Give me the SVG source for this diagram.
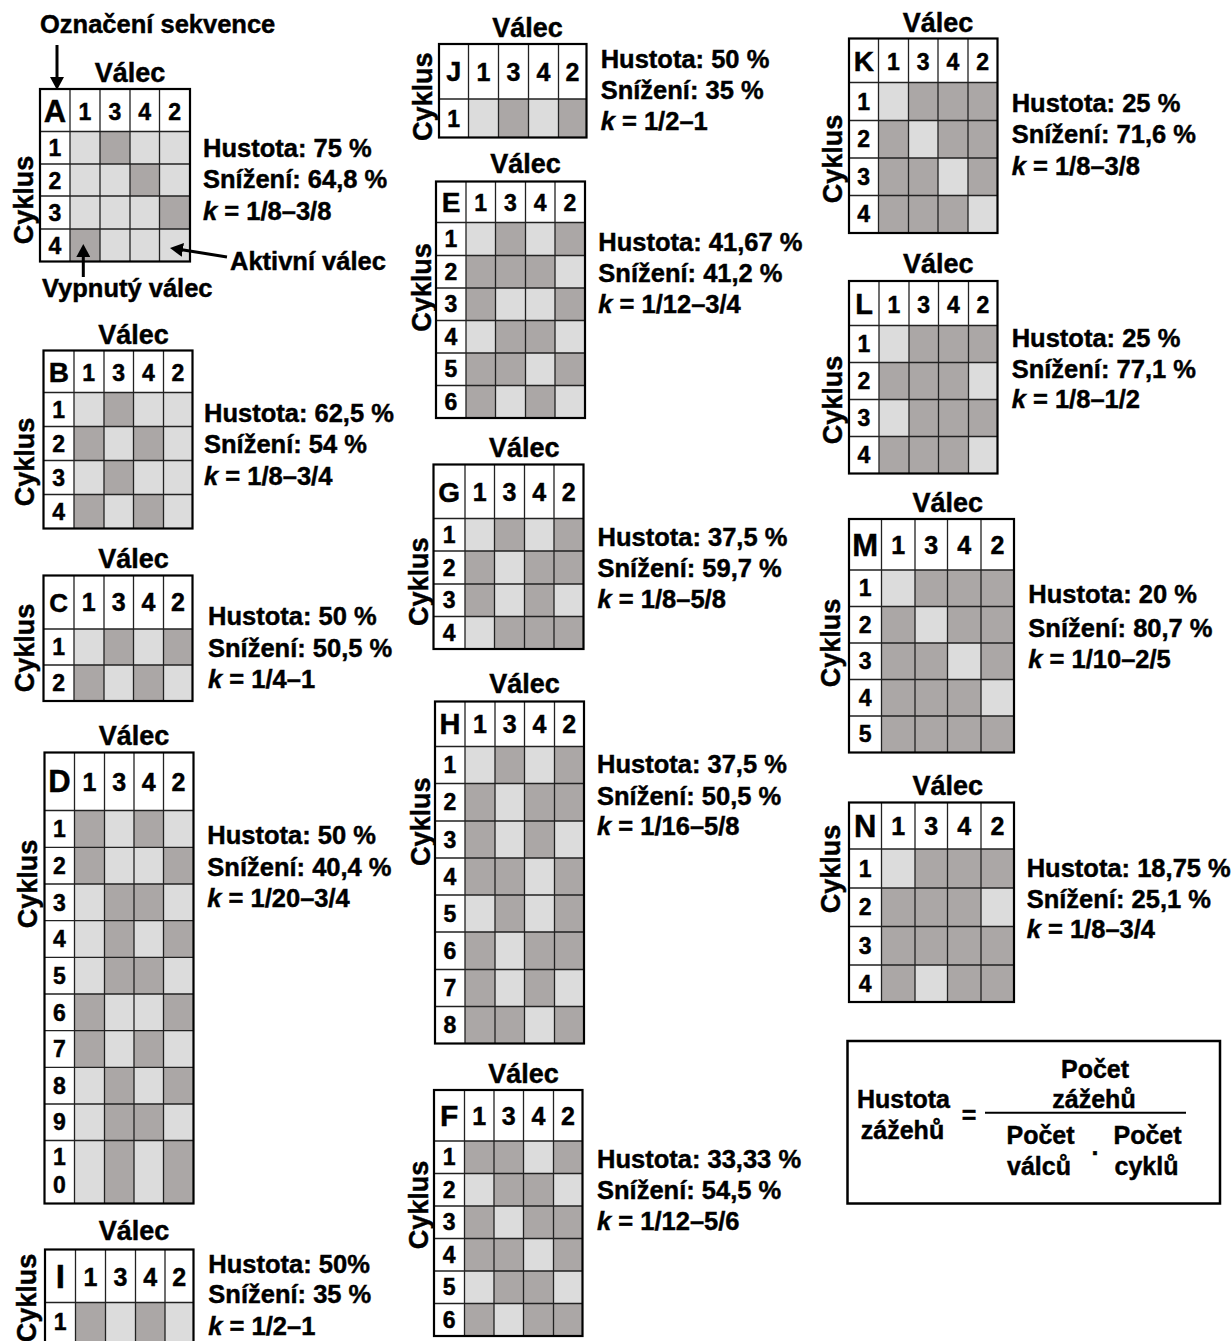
<svg xmlns="http://www.w3.org/2000/svg" width="1232" height="1341" viewBox="0 0 1232 1341">
<defs>
<style>
.bg{fill:#fff}
.l{fill:#dcdcdc}
.d{fill:#aba7a6}
.in{stroke:#222;stroke-width:1.3;fill:none}
.out{stroke:#000;stroke-width:2.2;fill:none}
text{font-family:"Liberation Sans",Arial,Helvetica,sans-serif;font-weight:bold;fill:#000;stroke:#000;stroke-width:0.45}
.vl{font-size:27px;text-anchor:middle}
.n{font-size:23px;text-anchor:middle}
.h{font-size:23px;text-anchor:middle}
.H{font-size:25px;text-anchor:middle}
.hd{text-anchor:middle}
.st{font-size:25.5px}
.lb{font-size:25.5px}
.fm{font-size:25px;text-anchor:middle}
.ar{stroke:#000;stroke-width:3;fill:none}
</style>
<marker id="ah" markerWidth="14" markerHeight="14" refX="4" refY="7" orient="auto" markerUnits="userSpaceOnUse">
<path d="M0,0 L13,7 L0,14 z" fill="#000"/>
</marker>
</defs>
<rect width="1232" height="1341" fill="#fff"/>

<g id="legend">
<text class="lb" x="40" y="33">Označení sekvence</text>
<text class="lb" x="230" y="270">Aktivní válec</text>
<text class="lb" x="42" y="297">Vypnutý válec</text>
</g>

<g id="grid-A">
<text class="vl" x="130" y="82">Válec</text>
<text class="vl" transform="translate(33,200) rotate(-90)">Cyklus</text>
<rect class="bg" x="40" y="89" width="150" height="172.5"/>
<rect class="l" x="70" y="131.5" width="120" height="130"/>
<rect class="d" x="100" y="131.5" width="30" height="32.5"/>
<rect class="d" x="130" y="164" width="29.5" height="32"/>
<rect class="d" x="159.5" y="196" width="30.5" height="33"/>
<rect class="d" x="70" y="229" width="30" height="32.5"/>
<path class="in" d="M70 89V261.5M100 89V261.5M130 89V261.5M159.5 89V261.5M40 131.5H190M40 164H190M40 196H190M40 229H190"/>
<rect class="out" x="40" y="89" width="150" height="172.5"/>
<text class="hd" x="55" y="122" font-size="31">A</text>
<text class="h" x="85" y="120">1</text><text class="h" x="115" y="120">3</text><text class="h" x="144.75" y="120">4</text><text class="h" x="174.75" y="120">2</text>
<text class="n" x="55" y="156">1</text><text class="n" x="55" y="188.5">2</text><text class="n" x="55" y="221">3</text><text class="n" x="55" y="253.5">4</text>
<text class="st" x="203" y="156.7">Hustota: 75 %</text>
<text class="st" x="203" y="188.3">Snížení: 64,8 %</text>
<text class="st" x="203" y="220"><tspan font-style="italic">k</tspan> = 1/8–3/8</text>
</g>

<g id="grid-B">
<text class="vl" x="133.5" y="344">Válec</text>
<text class="vl" transform="translate(34,462) rotate(-90)">Cyklus</text>
<rect class="bg" x="43.5" y="350.5" width="149" height="178"/>
<rect class="l" x="74" y="392.5" width="118.5" height="136"/>
<rect class="d" x="104" y="392.5" width="29.5" height="34"/>
<rect class="d" x="74" y="426.5" width="30" height="34"/>
<rect class="d" x="133.5" y="426.5" width="30" height="34"/>
<rect class="d" x="104" y="460.5" width="29.5" height="34"/>
<rect class="d" x="74" y="494.5" width="30" height="34"/>
<rect class="d" x="133.5" y="494.5" width="30" height="34"/>
<path class="in" d="M74 350.5V528.5M104 350.5V528.5M133.5 350.5V528.5M163.5 350.5V528.5M43.5 392.5H192.5M43.5 426.5H192.5M43.5 460.5H192.5M43.5 494.5H192.5"/>
<rect class="out" x="43.5" y="350.5" width="149" height="178"/>
<text class="hd" x="58.75" y="381.5" font-size="28">B</text>
<text class="h" x="88.75" y="380.5">1</text><text class="h" x="118.75" y="380.5">3</text><text class="h" x="148.5" y="380.5">4</text><text class="h" x="178" y="380.5">2</text>
<text class="n" x="58.75" y="417.5">1</text><text class="n" x="58.75" y="451.5">2</text><text class="n" x="58.75" y="485.5">3</text><text class="n" x="58.75" y="519.5">4</text>
<text class="st" x="204" y="421.7">Hustota: 62,5 %</text>
<text class="st" x="204" y="453.3">Snížení: 54 %</text>
<text class="st" x="204" y="485"><tspan font-style="italic">k</tspan> = 1/8–3/4</text>
</g>

<g id="grid-C">
<text class="vl" x="133.5" y="568">Válec</text>
<text class="vl" transform="translate(34,648) rotate(-90)">Cyklus</text>
<rect class="bg" x="43.5" y="575.5" width="149" height="125.5"/>
<rect class="l" x="74" y="629" width="118.5" height="72"/>
<rect class="d" x="104" y="629" width="29.5" height="36"/>
<rect class="d" x="163.5" y="629" width="29" height="36"/>
<rect class="d" x="74" y="665" width="30" height="36"/>
<rect class="d" x="133.5" y="665" width="30" height="36"/>
<path class="in" d="M74 575.5V701M104 575.5V701M133.5 575.5V701M163.5 575.5V701M43.5 629H192.5M43.5 665H192.5"/>
<rect class="out" x="43.5" y="575.5" width="149" height="125.5"/>
<text class="hd" x="58.75" y="612" font-size="26">C</text>
<text class="H" x="88.75" y="611">1</text><text class="H" x="118.75" y="611">3</text><text class="H" x="148.5" y="611">4</text><text class="H" x="178" y="611">2</text>
<text class="n" x="58.75" y="655">1</text><text class="n" x="58.75" y="691">2</text>
<text class="st" x="208" y="625">Hustota: 50 %</text>
<text class="st" x="208" y="656.7">Snížení: 50,5 %</text>
<text class="st" x="208" y="688.3"><tspan font-style="italic">k</tspan> = 1/4–1</text>
</g>

<g id="grid-D">
<text class="vl" x="134" y="745">Válec</text>
<text class="vl" transform="translate(37,884) rotate(-90)">Cyklus</text>
<rect class="bg" x="44.5" y="752.5" width="149" height="451"/>
<rect class="l" x="74.5" y="810.5" width="119" height="393"/>
<rect class="d" x="74.5" y="810.5" width="30" height="36.8"/><rect class="d" x="134" y="810.5" width="29.5" height="36.8"/>
<rect class="d" x="74.5" y="847.3" width="30" height="36.7"/><rect class="d" x="163.5" y="847.3" width="30" height="36.7"/>
<rect class="d" x="104.5" y="884" width="59" height="36.7"/>
<rect class="d" x="104.5" y="920.7" width="29.5" height="36.6"/><rect class="d" x="163.5" y="920.7" width="30" height="36.6"/>
<rect class="d" x="104.5" y="957.3" width="59" height="36.7"/>
<rect class="d" x="74.5" y="994" width="30" height="36.7"/><rect class="d" x="163.5" y="994" width="30" height="36.7"/>
<rect class="d" x="74.5" y="1030.7" width="30" height="36.6"/><rect class="d" x="134" y="1030.7" width="29.5" height="36.6"/>
<rect class="d" x="104.5" y="1067.3" width="29.5" height="36.7"/><rect class="d" x="163.5" y="1067.3" width="30" height="36.7"/>
<rect class="d" x="104.5" y="1104" width="59" height="36.5"/>
<rect class="d" x="104.5" y="1140.5" width="29.5" height="63"/><rect class="d" x="163.5" y="1140.5" width="30" height="63"/>
<path class="in" d="M74.5 752.5V1203.5M104.5 752.5V1203.5M134 752.5V1203.5M163.5 752.5V1203.5M44.5 810.5H193.5M44.5 847.3H193.5M44.5 884H193.5M44.5 920.7H193.5M44.5 957.3H193.5M44.5 994H193.5M44.5 1030.7H193.5M44.5 1067.3H193.5M44.5 1104H193.5M44.5 1140.5H193.5"/>
<rect class="out" x="44.5" y="752.5" width="149" height="451"/>
<text class="hd" x="59.5" y="792" font-size="31">D</text>
<text class="H" x="89.5" y="790.5">1</text><text class="H" x="119.25" y="790.5">3</text><text class="H" x="148.75" y="790.5">4</text><text class="H" x="178.5" y="790.5">2</text>
<text class="n" x="59.5" y="837">1</text><text class="n" x="59.5" y="873.5">2</text><text class="n" x="59.5" y="910.5">3</text><text class="n" x="59.5" y="947">4</text><text class="n" x="59.5" y="983.5">5</text><text class="n" x="59.5" y="1020.5">6</text><text class="n" x="59.5" y="1057">7</text><text class="n" x="59.5" y="1093.5">8</text><text class="n" x="59.5" y="1130">9</text>
<text class="n" x="59.5" y="1165">1</text><text class="n" x="59.5" y="1193">0</text>
<text class="st" x="207.3" y="844">Hustota: 50 %</text>
<text class="st" x="207.3" y="875.5">Snížení: 40,4 %</text>
<text class="st" x="207.3" y="906.7"><tspan font-style="italic">k</tspan> = 1/20–3/4</text>
</g>

<g id="grid-I">
<text class="vl" x="134" y="1240">Válec</text>
<text class="vl" transform="translate(36,1298) rotate(-90)">Cyklus</text>
<rect class="bg" x="45" y="1249.5" width="148.5" height="95.5"/>
<rect class="l" x="75.5" y="1302.5" width="118" height="42.5"/>
<rect class="d" x="75.5" y="1302.5" width="30" height="42.5"/>
<rect class="d" x="135.5" y="1302.5" width="29.5" height="42.5"/>
<path class="in" d="M75.5 1249.5V1345M105.5 1249.5V1345M135.5 1249.5V1345M165 1249.5V1345M45 1302.5H193.5"/>
<rect class="out" x="45" y="1249.5" width="148.5" height="95.5"/>
<text class="hd" x="60.25" y="1288" font-size="33">I</text>
<text class="H" x="90.5" y="1286">1</text><text class="H" x="120.5" y="1286">3</text><text class="H" x="150.25" y="1286">4</text><text class="H" x="179.25" y="1286">2</text>
<text class="n" x="60.25" y="1330">1</text>
<text class="st" x="208.3" y="1273.3">Hustota: 50%</text>
<text class="st" x="208.3" y="1303.3">Snížení: 35 %</text>
<text class="st" x="208.3" y="1335"><tspan font-style="italic">k</tspan> = 1/2–1</text>
</g>

<g id="grid-J">
<text class="vl" x="527.5" y="36.7">Válec</text>
<text class="vl" transform="translate(432,96.7) rotate(-90)">Cyklus</text>
<rect class="bg" x="439" y="44" width="147.5" height="93.5"/>
<rect class="l" x="468.5" y="99" width="118" height="38.5"/>
<rect class="d" x="498.5" y="99" width="30" height="38.5"/>
<rect class="d" x="558.5" y="99" width="28" height="38.5"/>
<path class="in" d="M468.5 44V137.5M498.5 44V137.5M528.5 44V137.5M558.5 44V137.5M439 99H586.5"/>
<rect class="out" x="439" y="44" width="147.5" height="93.5"/>
<text class="hd" x="453.75" y="81" font-size="27">J</text>
<text class="H" x="483.5" y="81">1</text><text class="H" x="513.5" y="81">3</text><text class="H" x="543.5" y="81">4</text><text class="H" x="572.5" y="81">2</text>
<text class="n" x="453.75" y="126.5">1</text>
<text class="st" x="600.7" y="68.3">Hustota: 50 %</text>
<text class="st" x="600.7" y="99.3">Snížení: 35 %</text>
<text class="st" x="600.7" y="130"><tspan font-style="italic">k</tspan> = 1/2–1</text>
</g>

<g id="grid-E">
<text class="vl" x="525.5" y="173.3">Válec</text>
<text class="vl" transform="translate(431,287.5) rotate(-90)">Cyklus</text>
<rect class="bg" x="436" y="181.5" width="149" height="236.5"/>
<rect class="l" x="466" y="222.5" width="119" height="195.5"/>
<rect class="d" x="495.5" y="222.5" width="30" height="33"/><rect class="d" x="555" y="222.5" width="30" height="33"/>
<rect class="d" x="466" y="255.5" width="89" height="32.5"/>
<rect class="d" x="466" y="288" width="29.5" height="32.5"/><rect class="d" x="555" y="288" width="30" height="32.5"/>
<rect class="d" x="495.5" y="320.5" width="59.5" height="32.5"/>
<rect class="d" x="466" y="353" width="59.5" height="32.5"/><rect class="d" x="555" y="353" width="30" height="32.5"/>
<rect class="d" x="466" y="385.5" width="29.5" height="32.5"/><rect class="d" x="525.5" y="385.5" width="29.5" height="32.5"/>
<path class="in" d="M466 181.5V418M495.5 181.5V418M525.5 181.5V418M555 181.5V418M436 222.5H585M436 255.5H585M436 288H585M436 320.5H585M436 353H585M436 385.5H585"/>
<rect class="out" x="436" y="181.5" width="149" height="236.5"/>
<text class="hd" x="451" y="212" font-size="28">E</text>
<text class="h" x="480.75" y="211">1</text><text class="h" x="510.5" y="211">3</text><text class="h" x="540.25" y="211">4</text><text class="h" x="570" y="211">2</text>
<text class="n" x="451" y="247">1</text><text class="n" x="451" y="279.75">2</text><text class="n" x="451" y="312.25">3</text><text class="n" x="451" y="344.75">4</text><text class="n" x="451" y="377.25">5</text><text class="n" x="451" y="409.75">6</text>
<text class="st" x="598.3" y="250.7">Hustota: 41,67 %</text>
<text class="st" x="598.3" y="282.3">Snížení: 41,2 %</text>
<text class="st" x="598.3" y="313.3"><tspan font-style="italic">k</tspan> = 1/12–3/4</text>
</g>

<g id="grid-G">
<text class="vl" x="524.25" y="456.7">Válec</text>
<text class="vl" transform="translate(428,581.7) rotate(-90)">Cyklus</text>
<rect class="bg" x="433.5" y="464.5" width="150" height="184.5"/>
<rect class="l" x="465" y="518.5" width="118.5" height="130.5"/>
<rect class="d" x="494.5" y="518.5" width="30" height="32.5"/><rect class="d" x="554" y="518.5" width="29.5" height="32.5"/>
<rect class="d" x="465" y="551" width="29.5" height="33"/><rect class="d" x="524.5" y="551" width="59" height="33"/>
<rect class="d" x="465" y="584" width="29.5" height="32.5"/><rect class="d" x="524.5" y="584" width="29.5" height="32.5"/>
<rect class="d" x="494.5" y="616.5" width="89" height="32.5"/>
<path class="in" d="M465 464.5V649M494.5 464.5V649M524.5 464.5V649M554 464.5V649M433.5 518.5H583.5M433.5 551H583.5M433.5 584H583.5M433.5 616.5H583.5"/>
<rect class="out" x="433.5" y="464.5" width="150" height="184.5"/>
<text class="hd" x="449.25" y="502" font-size="28">G</text>
<text class="H" x="479.75" y="501">1</text><text class="H" x="509.5" y="501">3</text><text class="H" x="539.25" y="501">4</text><text class="H" x="568.75" y="501">2</text>
<text class="n" x="449.25" y="542.75">1</text><text class="n" x="449.25" y="575.5">2</text><text class="n" x="449.25" y="608.25">3</text><text class="n" x="449.25" y="640.75">4</text>
<text class="st" x="597.5" y="546">Hustota: 37,5 %</text>
<text class="st" x="597.5" y="576.7">Snížení: 59,7 %</text>
<text class="st" x="597.5" y="608.3"><tspan font-style="italic">k</tspan> = 1/8–5/8</text>
</g>

<g id="grid-H">
<text class="vl" x="524.5" y="693.3">Válec</text>
<text class="vl" transform="translate(430,821.7) rotate(-90)">Cyklus</text>
<rect class="bg" x="435" y="701.5" width="149" height="342"/>
<rect class="l" x="465" y="746.5" width="119" height="297"/>
<rect class="d" x="495" y="746.5" width="29.5" height="37"/><rect class="d" x="554.5" y="746.5" width="29.5" height="37"/>
<rect class="d" x="465" y="783.5" width="30" height="37.5"/><rect class="d" x="524.5" y="783.5" width="59.5" height="37.5"/>
<rect class="d" x="465" y="821" width="30" height="37"/><rect class="d" x="524.5" y="821" width="30" height="37"/>
<rect class="d" x="465" y="858" width="59.5" height="37"/><rect class="d" x="554.5" y="858" width="29.5" height="37"/>
<rect class="d" x="495" y="895" width="29.5" height="37"/><rect class="d" x="554.5" y="895" width="29.5" height="37"/>
<rect class="d" x="465" y="932" width="30" height="37.5"/><rect class="d" x="524.5" y="932" width="59.5" height="37.5"/>
<rect class="d" x="465" y="969.5" width="30" height="37"/><rect class="d" x="524.5" y="969.5" width="30" height="37"/>
<rect class="d" x="465" y="1006.5" width="59.5" height="37"/><rect class="d" x="554.5" y="1006.5" width="29.5" height="37"/>
<path class="in" d="M465 701.5V1043.5M495 701.5V1043.5M524.5 701.5V1043.5M554.5 701.5V1043.5M435 746.5H584M435 783.5H584M435 821H584M435 858H584M435 895H584M435 932H584M435 969.5H584M435 1006.5H584"/>
<rect class="out" x="435" y="701.5" width="149" height="342"/>
<text class="hd" x="450" y="734" font-size="29">H</text>
<text class="H" x="480" y="733">1</text><text class="H" x="509.75" y="733">3</text><text class="H" x="539.5" y="733">4</text><text class="H" x="569.25" y="733">2</text>
<text class="n" x="450" y="773">1</text><text class="n" x="450" y="810.25">2</text><text class="n" x="450" y="847.5">3</text><text class="n" x="450" y="884.5">4</text><text class="n" x="450" y="921.5">5</text><text class="n" x="450" y="958.75">6</text><text class="n" x="450" y="996">7</text><text class="n" x="450" y="1033">8</text>
<text class="st" x="597" y="773.3">Hustota: 37,5 %</text>
<text class="st" x="597" y="805">Snížení: 50,5 %</text>
<text class="st" x="597" y="835"><tspan font-style="italic">k</tspan> = 1/16–5/8</text>
</g>

<g id="grid-F">
<text class="vl" x="523.5" y="1083.3">Válec</text>
<text class="vl" transform="translate(428,1205) rotate(-90)">Cyklus</text>
<rect class="bg" x="434" y="1090" width="148.5" height="246"/>
<rect class="l" x="464.5" y="1141" width="118" height="195"/>
<rect class="d" x="464.5" y="1141" width="59" height="32.5"/><rect class="d" x="553.5" y="1141" width="29" height="32.5"/>
<rect class="d" x="494" y="1173.5" width="59.5" height="32.5"/>
<rect class="d" x="464.5" y="1206" width="29.5" height="32.5"/><rect class="d" x="523.5" y="1206" width="59" height="32.5"/>
<rect class="d" x="464.5" y="1238.5" width="59" height="32.5"/><rect class="d" x="553.5" y="1238.5" width="29" height="32.5"/>
<rect class="d" x="494" y="1271" width="59.5" height="32.5"/>
<rect class="d" x="464.5" y="1303.5" width="29.5" height="32.5"/><rect class="d" x="523.5" y="1303.5" width="59" height="32.5"/>
<path class="in" d="M464.5 1090V1336M494 1090V1336M523.5 1090V1336M553.5 1090V1336M434 1141H582.5M434 1173.5H582.5M434 1206H582.5M434 1238.5H582.5M434 1271H582.5M434 1303.5H582.5"/>
<rect class="out" x="434" y="1090" width="148.5" height="246"/>
<text class="hd" x="449.25" y="1126" font-size="30">F</text>
<text class="H" x="479.25" y="1124.5">1</text><text class="H" x="508.75" y="1124.5">3</text><text class="H" x="538.5" y="1124.5">4</text><text class="H" x="568" y="1124.5">2</text>
<text class="n" x="449.25" y="1165.25">1</text><text class="n" x="449.25" y="1197.75">2</text><text class="n" x="449.25" y="1230.25">3</text><text class="n" x="449.25" y="1262.75">4</text><text class="n" x="449.25" y="1295.25">5</text><text class="n" x="449.25" y="1327.75">6</text>
<text class="st" x="597" y="1168.3">Hustota: 33,33 %</text>
<text class="st" x="597" y="1199.3">Snížení: 54,5 %</text>
<text class="st" x="597" y="1230"><tspan font-style="italic">k</tspan> = 1/12–5/6</text>
</g>

<g id="grid-K">
<text class="vl" x="938" y="31.7">Válec</text>
<text class="vl" transform="translate(842,159) rotate(-90)">Cyklus</text>
<rect class="bg" x="849" y="38.5" width="148.5" height="194.5"/>
<rect class="l" x="878.5" y="82.5" width="119" height="150.5"/>
<rect class="d" x="908.5" y="82.5" width="89" height="38"/>
<rect class="d" x="878.5" y="120.5" width="30" height="37.5"/><rect class="d" x="938" y="120.5" width="59.5" height="37.5"/>
<rect class="d" x="878.5" y="158" width="59.5" height="37.5"/><rect class="d" x="968" y="158" width="29.5" height="37.5"/>
<rect class="d" x="878.5" y="195.5" width="89.5" height="37.5"/>
<path class="in" d="M878.5 38.5V233M908.5 38.5V233M938 38.5V233M968 38.5V233M849 82.5H997.5M849 120.5H997.5M849 158H997.5M849 195.5H997.5"/>
<rect class="out" x="849" y="38.5" width="148.5" height="194.5"/>
<text class="hd" x="863.75" y="71" font-size="28">K</text>
<text class="h" x="893.5" y="70">1</text><text class="h" x="923.25" y="70">3</text><text class="h" x="953" y="70">4</text><text class="h" x="982.75" y="70">2</text>
<text class="n" x="863.75" y="109.5">1</text><text class="n" x="863.75" y="147.25">2</text><text class="n" x="863.75" y="184.75">3</text><text class="n" x="863.75" y="222.25">4</text>
<text class="st" x="1011.7" y="111.7">Hustota: 25 %</text>
<text class="st" x="1011.7" y="143.3">Snížení: 71,6 %</text>
<text class="st" x="1011.7" y="175"><tspan font-style="italic">k</tspan> = 1/8–3/8</text>
</g>

<g id="grid-L">
<text class="vl" x="938.25" y="273.3">Válec</text>
<text class="vl" transform="translate(842,400) rotate(-90)">Cyklus</text>
<rect class="bg" x="849" y="281" width="148.5" height="192.5"/>
<rect class="l" x="879" y="325.5" width="118.5" height="148"/>
<rect class="d" x="909" y="325.5" width="88.5" height="37"/>
<rect class="d" x="879" y="362.5" width="89.5" height="37"/>
<rect class="d" x="909" y="399.5" width="88.5" height="37"/>
<rect class="d" x="879" y="436.5" width="89.5" height="37"/>
<path class="in" d="M879 281V473.5M909 281V473.5M938.5 281V473.5M968.5 281V473.5M849 325.5H997.5M849 362.5H997.5M849 399.5H997.5M849 436.5H997.5"/>
<rect class="out" x="849" y="281" width="148.5" height="192.5"/>
<text class="hd" x="864" y="314" font-size="29">L</text>
<text class="h" x="894" y="312.5">1</text><text class="h" x="923.75" y="312.5">3</text><text class="h" x="953.5" y="312.5">4</text><text class="h" x="983" y="312.5">2</text>
<text class="n" x="864" y="352">1</text><text class="n" x="864" y="389">2</text><text class="n" x="864" y="426">3</text><text class="n" x="864" y="463">4</text>
<text class="st" x="1011.7" y="346.7">Hustota: 25 %</text>
<text class="st" x="1011.7" y="378.3">Snížení: 77,1 %</text>
<text class="st" x="1011.7" y="408.3"><tspan font-style="italic">k</tspan> = 1/8–1/2</text>
</g>

<g id="grid-M">
<text class="vl" x="947.75" y="511.7">Válec</text>
<text class="vl" transform="translate(840,643) rotate(-90)">Cyklus</text>
<rect class="bg" x="849" y="519" width="165" height="233.5"/>
<rect class="l" x="881.5" y="570" width="132.5" height="182.5"/>
<rect class="d" x="915" y="570" width="99" height="36.5"/>
<rect class="d" x="881.5" y="606.5" width="33.5" height="36.5"/><rect class="d" x="947.5" y="606.5" width="66.5" height="36.5"/>
<rect class="d" x="881.5" y="643" width="66" height="36.5"/><rect class="d" x="981" y="643" width="33" height="36.5"/>
<rect class="d" x="881.5" y="679.5" width="99.5" height="36.5"/>
<rect class="d" x="881.5" y="716" width="132.5" height="36.5"/>
<path class="in" d="M881.5 519V752.5M915 519V752.5M947.5 519V752.5M981 519V752.5M849 570H1014M849 606.5H1014M849 643H1014M849 679.5H1014M849 716H1014"/>
<rect class="out" x="849" y="519" width="165" height="233.5"/>
<text class="hd" x="865.25" y="555.5" font-size="31">M</text>
<text class="H" x="898.25" y="554">1</text><text class="H" x="931.25" y="554">3</text><text class="H" x="964.25" y="554">4</text><text class="H" x="997.5" y="554">2</text>
<text class="n" x="865.25" y="596.25">1</text><text class="n" x="865.25" y="632.75">2</text><text class="n" x="865.25" y="669.25">3</text><text class="n" x="865.25" y="705.75">4</text><text class="n" x="865.25" y="742.25">5</text>
<text class="st" x="1028.3" y="603.3">Hustota: 20 %</text>
<text class="st" x="1028.3" y="636.7">Snížení: 80,7 %</text>
<text class="st" x="1028.3" y="668.3"><tspan font-style="italic">k</tspan> = 1/10–2/5</text>
</g>

<g id="grid-N">
<text class="vl" x="947.75" y="795">Válec</text>
<text class="vl" transform="translate(840,869) rotate(-90)">Cyklus</text>
<rect class="bg" x="849" y="802.5" width="165" height="199.5"/>
<rect class="l" x="881.5" y="849" width="132.5" height="153"/>
<rect class="d" x="915" y="849" width="99" height="39"/>
<rect class="d" x="881.5" y="888" width="99.5" height="38.5"/>
<rect class="d" x="881.5" y="926.5" width="132.5" height="38.5"/>
<rect class="d" x="881.5" y="965" width="33.5" height="37"/><rect class="d" x="947.5" y="965" width="66.5" height="37"/>
<path class="in" d="M881.5 802.5V1002M915 802.5V1002M947.5 802.5V1002M981 802.5V1002M849 849H1014M849 888H1014M849 926.5H1014M849 965H1014"/>
<rect class="out" x="849" y="802.5" width="165" height="199.5"/>
<text class="hd" x="865.25" y="837" font-size="31">N</text>
<text class="H" x="898.25" y="835">1</text><text class="H" x="931.25" y="835">3</text><text class="H" x="964.25" y="835">4</text><text class="H" x="997.5" y="835">2</text>
<text class="n" x="865.25" y="876.5">1</text><text class="n" x="865.25" y="915.25">2</text><text class="n" x="865.25" y="953.75">3</text><text class="n" x="865.25" y="991.5">4</text>
<text class="st" x="1026.7" y="876.7">Hustota: 18,75 %</text>
<text class="st" x="1026.7" y="908.3">Snížení: 25,1 %</text>
<text class="st" x="1026.7" y="938.3"><tspan font-style="italic">k</tspan> = 1/8–3/4</text>
</g>

<g id="formula">
<rect x="847.5" y="1041" width="372.5" height="162.5" fill="#fff" stroke="#000" stroke-width="2.5"/>
<text class="fm" x="903.5" y="1107.5">Hustota</text>
<text class="fm" x="902.5" y="1138.5">zážehů</text>
<text class="fm" x="969" y="1124">=</text>
<line x1="985" y1="1112.7" x2="1186" y2="1112.7" stroke="#000" stroke-width="2"/>
<text class="fm" x="1095" y="1078.3">Počet</text>
<text class="fm" x="1094" y="1108">zážehů</text>
<text class="fm" x="1040.5" y="1144">Počet</text>
<text class="fm" x="1039" y="1175">válců</text>
<text class="fm" x="1095" y="1155">.</text>
<text class="fm" x="1147.5" y="1144">Počet</text>
<text class="fm" x="1146.5" y="1175">cyklů</text>
</g>

<g id="connectors">
<line class="ar" x1="57" y1="45" x2="57" y2="81" marker-end="url(#ah)"/>
<line class="ar" x1="227" y1="257" x2="178.9" y2="249.3" marker-end="url(#ah)"/>
<line class="ar" x1="83.3" y1="277" x2="83.3" y2="253" marker-end="url(#ah)"/>
</g>
</svg>
